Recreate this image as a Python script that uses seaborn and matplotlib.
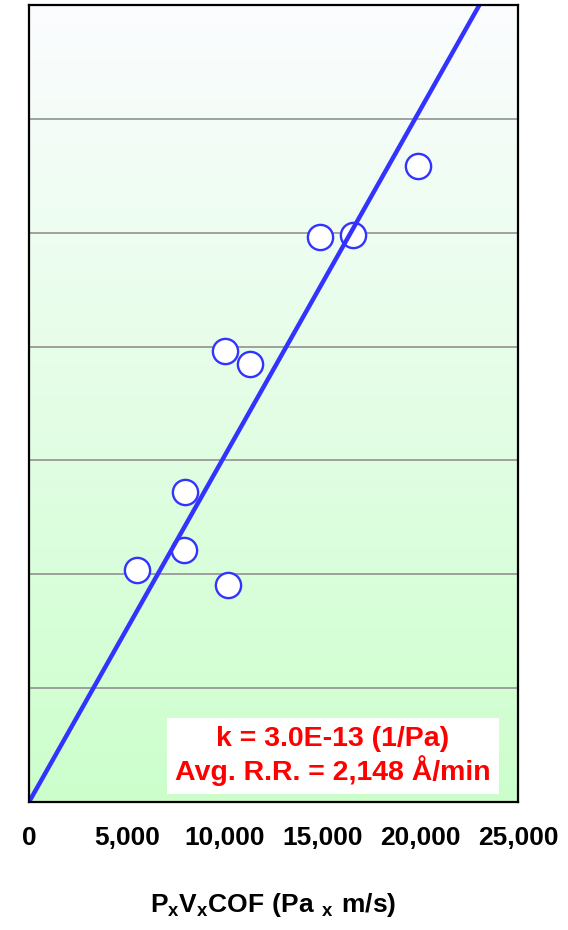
import numpy as np
import pandas as pd
import matplotlib
matplotlib.use("Agg")
import matplotlib.pyplot as plt
from matplotlib.ticker import FuncFormatter
import seaborn as sns

# Measured points: P x V x COF (Pa*m/s) against removal rate (Angstrom/min)
pv_cof = [5520, 7920, 7975, 10175, 10020, 11300, 14880, 16565, 19890]
removal_rate = [1220, 1330, 1635, 1145, 2375, 2310, 2975, 2990, 3352]

# Preston coefficient (1/Pa)
k_preston = 3.04e-13

x_ticks = [0, 5000, 10000, 15000, 20000, 25000]
y_grid = [0, 600, 1200, 1800, 2400, 3000, 3600, 4200]

sns.set_style("white")
plt.rcParams["font.family"] = ["Liberation Sans", "DejaVu Sans"]
plt.rcParams["mathtext.fontset"] = "custom"
plt.rcParams["mathtext.rm"] = "Liberation Sans"
plt.rcParams["mathtext.bf"] = "Liberation Sans:bold"
plt.rcParams["text.color"] = "black"
plt.rcParams["axes.labelcolor"] = "black"
plt.rcParams["xtick.labelcolor"] = "black"

df = pd.DataFrame({"pv": pv_cof, "rr": removal_rate})

# Preston line: RR [A/min] = k * PV * 1e10 A/m * 60 s/min
x_line = np.array([0.0, x_ticks[-1]])
fit = pd.DataFrame({"pv": x_line, "rr": k_preston * x_line * 1e10 * 60})

fig = plt.figure(figsize=(5.68, 9.30), dpi=100)
ax = fig.add_axes([29 / 568, 1 - 802 / 930, 489 / 568, 797 / 930])

# vertical white-to-green background
top_c = np.array([0.985, 0.99, 1.0])
bot_c = np.array([0.80, 1.0, 0.80])
t = np.linspace(0, 1, 256)[:, None]
grad = (top_c * (1 - t) + bot_c * t)[:, None, :]
ax.imshow(grad, extent=[x_ticks[0], x_ticks[-1], y_grid[0], y_grid[-1]],
          aspect="auto", zorder=0, interpolation="bilinear")

for yv in y_grid[1:-1]:
    ax.axhline(yv, color="#999999", lw=1.3, zorder=1)

sns.scatterplot(data=df, x="pv", y="rr", ax=ax, s=330, marker="o",
                facecolor="white", edgecolor="#3333ff", linewidth=1.7,
                zorder=3, legend=False)
sns.lineplot(data=fit, x="pv", y="rr", ax=ax, color="#3333ff", lw=3.2,
             zorder=4, legend=False)

ax.set_xlim(x_ticks[0], x_ticks[-1])
ax.set_ylim(y_grid[0], y_grid[-1])
ax.set_xticks(x_ticks)
ax.xaxis.set_major_formatter(FuncFormatter(lambda v, p: f"{v:,.0f}"))
ax.set_yticks([])
ax.tick_params(axis="x", direction="out", length=5, width=1.5, color="#808080",
               pad=12, labelsize=19, labelcolor="black")
for lab in ax.get_xticklabels():
    lab.set_fontweight("bold")

for side in ["left", "right", "top", "bottom"]:
    ax.spines[side].set_visible(True)
    ax.spines[side].set_color("black")
    ax.spines[side].set_linewidth(1.6)
    ax.spines[side].set_zorder(5)

ax.set_ylabel("")
ax.set_xlabel(r"$\mathbf{P_{x}V_{x}COF\ (Pa\ _{x}\ m/s)}$", fontsize=19,
              color="black")
ax.xaxis.label.set_va("center")
ax.xaxis.set_label_coords(0.5, -(905 - 802) / 797)

avg_rr = np.mean(removal_rate)
label = f"k = {k_preston:.1E} (1/Pa)\nAvg. R.R. = {avg_rr:,.0f} \u00c5/min"
ax.text((333 - 29) / 489, (802 - 756) / 797, label, transform=ax.transAxes,
        ha="center", va="center", multialignment="center", color="#ff0000",
        fontsize=20.5, fontweight="bold", linespacing=1.1, zorder=6,
        bbox=dict(boxstyle="square,pad=0.28", facecolor="white", edgecolor="none"))

fig.savefig("out.png", dpi=100)
